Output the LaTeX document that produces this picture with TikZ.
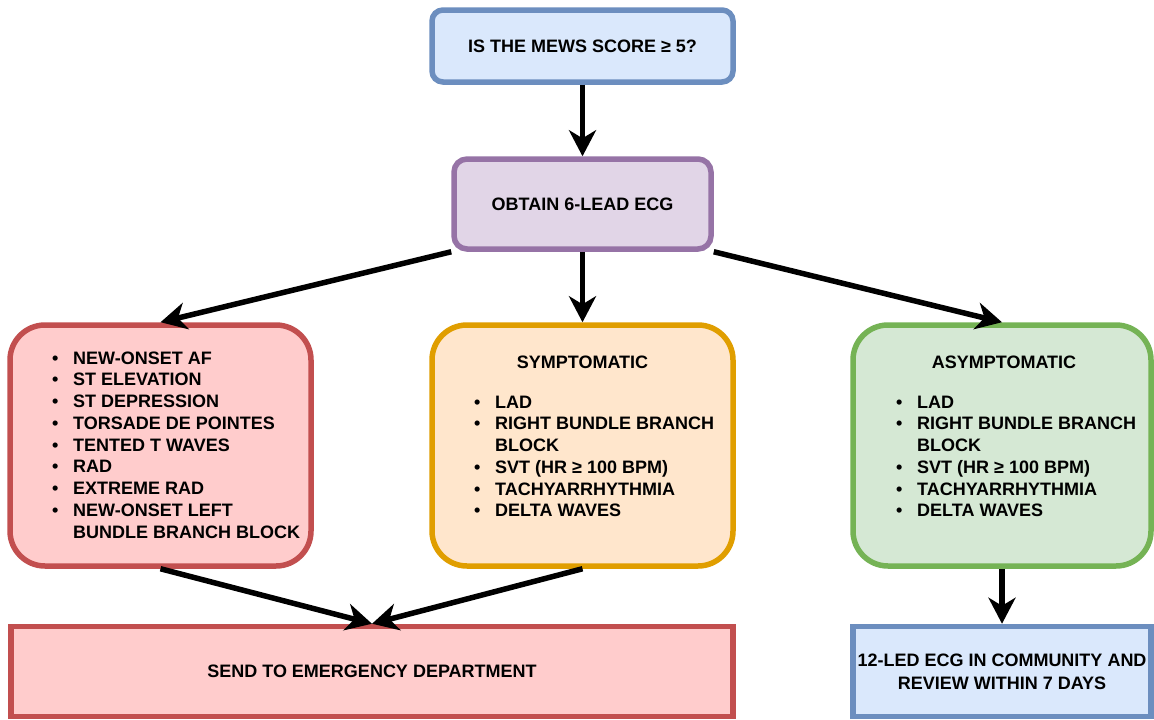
\documentclass[tikz,border=0pt]{standalone}
\usepackage{fontspec}
\setmainfont{Liberation Sans}
\usetikzlibrary{arrows.meta}
\definecolor{bluefill}{HTML}{DAE8FC}
\definecolor{bluedraw}{HTML}{6C8EBF}
\definecolor{purplefill}{HTML}{E1D5E7}
\definecolor{purpledraw}{HTML}{9673A6}
\definecolor{redfill}{HTML}{FFCCCC}
\definecolor{reddraw}{HTML}{C24F4F}
\definecolor{orangefill}{HTML}{FFE6CC}
\definecolor{orangedraw}{HTML}{E09E00}
\definecolor{greenfill}{HTML}{D5E8D4}
\definecolor{greendraw}{HTML}{75B355}
\newcommand{\mybul}{\makebox[21pt][l]{\textbullet}}
\begin{document}
\begin{tikzpicture}[x=1pt,y=-1pt,
  box/.style={draw, line width=5.5pt, inner sep=0pt},
  txt/.style={font=\bfseries\fontsize{18}{21.75}\selectfont, inner sep=0pt, text=black},
  arr/.style={line width=5.5pt, -{Stealth[length=26pt,width=27pt,inset=8pt]}},
  blue/.style={box, draw=bluedraw, fill=bluefill},
  purple/.style={box, draw=purpledraw, fill=purplefill},
  red/.style={box, draw=reddraw, fill=redfill},
  orange/.style={box, draw=orangedraw, fill=orangefill},
  green/.style={box, draw=greendraw, fill=greenfill}]
\useasboundingbox[fill=white] (0,0) rectangle (1154,720);

\node[blue, rounded corners=11pt, minimum width=301pt, minimum height=72pt] (mews) at (582.5,46) {};
\node[purple, rounded corners=13pt, minimum width=257pt, minimum height=90pt] (ecg) at (582.5,204) {};
\node[red, rounded corners=35pt, minimum width=301pt, minimum height=241pt] (redb) at (160.5,445.5) {};
\node[orange, rounded corners=35pt, minimum width=301pt, minimum height=241pt] (orb) at (582.5,445.5) {};
\node[green, rounded corners=35pt, minimum width=298pt, minimum height=241pt] (grb) at (1002,445.5) {};
\node[red, minimum width=722pt, minimum height=90pt] (send) at (372,671.5) {};
\node[blue, minimum width=298pt, minimum height=90pt] (comm) at (1002,671.5) {};

\node[txt] (mewst) at (582.5,46) {IS THE MEWS SCORE ≥ 5?};
\node[txt] (ecgt) at (582.5,204) {OBTAIN 6-LEAD ECG};
\node[txt, anchor=west, align=left] (rlist) at (52,445) {\mybul NEW-ONSET AF\\ \mybul ST ELEVATION\\ \mybul ST DEPRESSION\\ \mybul TORSADE DE POINTES\\ \mybul TENTED T WAVES\\ \mybul RAD\\ \mybul EXTREME RAD\\ \mybul NEW-ONSET LEFT\\ \hspace*{21pt}BUNDLE BRANCH BLOCK};
\node[txt] (otitle) at (582.5,362) {SYMPTOMATIC};
\node[txt, anchor=west, align=left] (olist) at (474,456.5) {\mybul LAD\\ \mybul RIGHT BUNDLE BRANCH\\ \hspace*{21pt}BLOCK\\ \mybul SVT (HR ≥ 100 BPM)\\ \mybul TACHYARRHYTHMIA\\ \mybul DELTA WAVES};
\node[txt] (gtitle) at (1004,362) {ASYMPTOMATIC};
\node[txt, anchor=west, align=left] (glist) at (896,456.5) {\mybul LAD\\ \mybul RIGHT BUNDLE BRANCH\\ \hspace*{21pt}BLOCK\\ \mybul SVT (HR ≥ 100 BPM)\\ \mybul TACHYARRHYTHMIA\\ \mybul DELTA WAVES};
\node[txt] (sendt) at (372,671.5) {SEND TO EMERGENCY DEPARTMENT};
\node[txt, align=center, font=\bfseries\fontsize{18}{23}\selectfont] (commt) at (1002,671.5) {12-LED ECG IN COMMUNITY AND\\ REVIEW WITHIN 7 DAYS};

\draw[arr] (mews.south) -- (ecg.north);
\draw[arr] (ecg.south) -- (orb.north);
\draw[arr] (ecg.south west) -- (redb.north);
\draw[arr] (ecg.south east) -- (grb.north);
\draw[arr] (redb.south) -- (send.north);
\draw[arr] (orb.south) -- (send.north);
\draw[arr] (grb.south) -- (comm.north);
\end{tikzpicture}
\end{document}
